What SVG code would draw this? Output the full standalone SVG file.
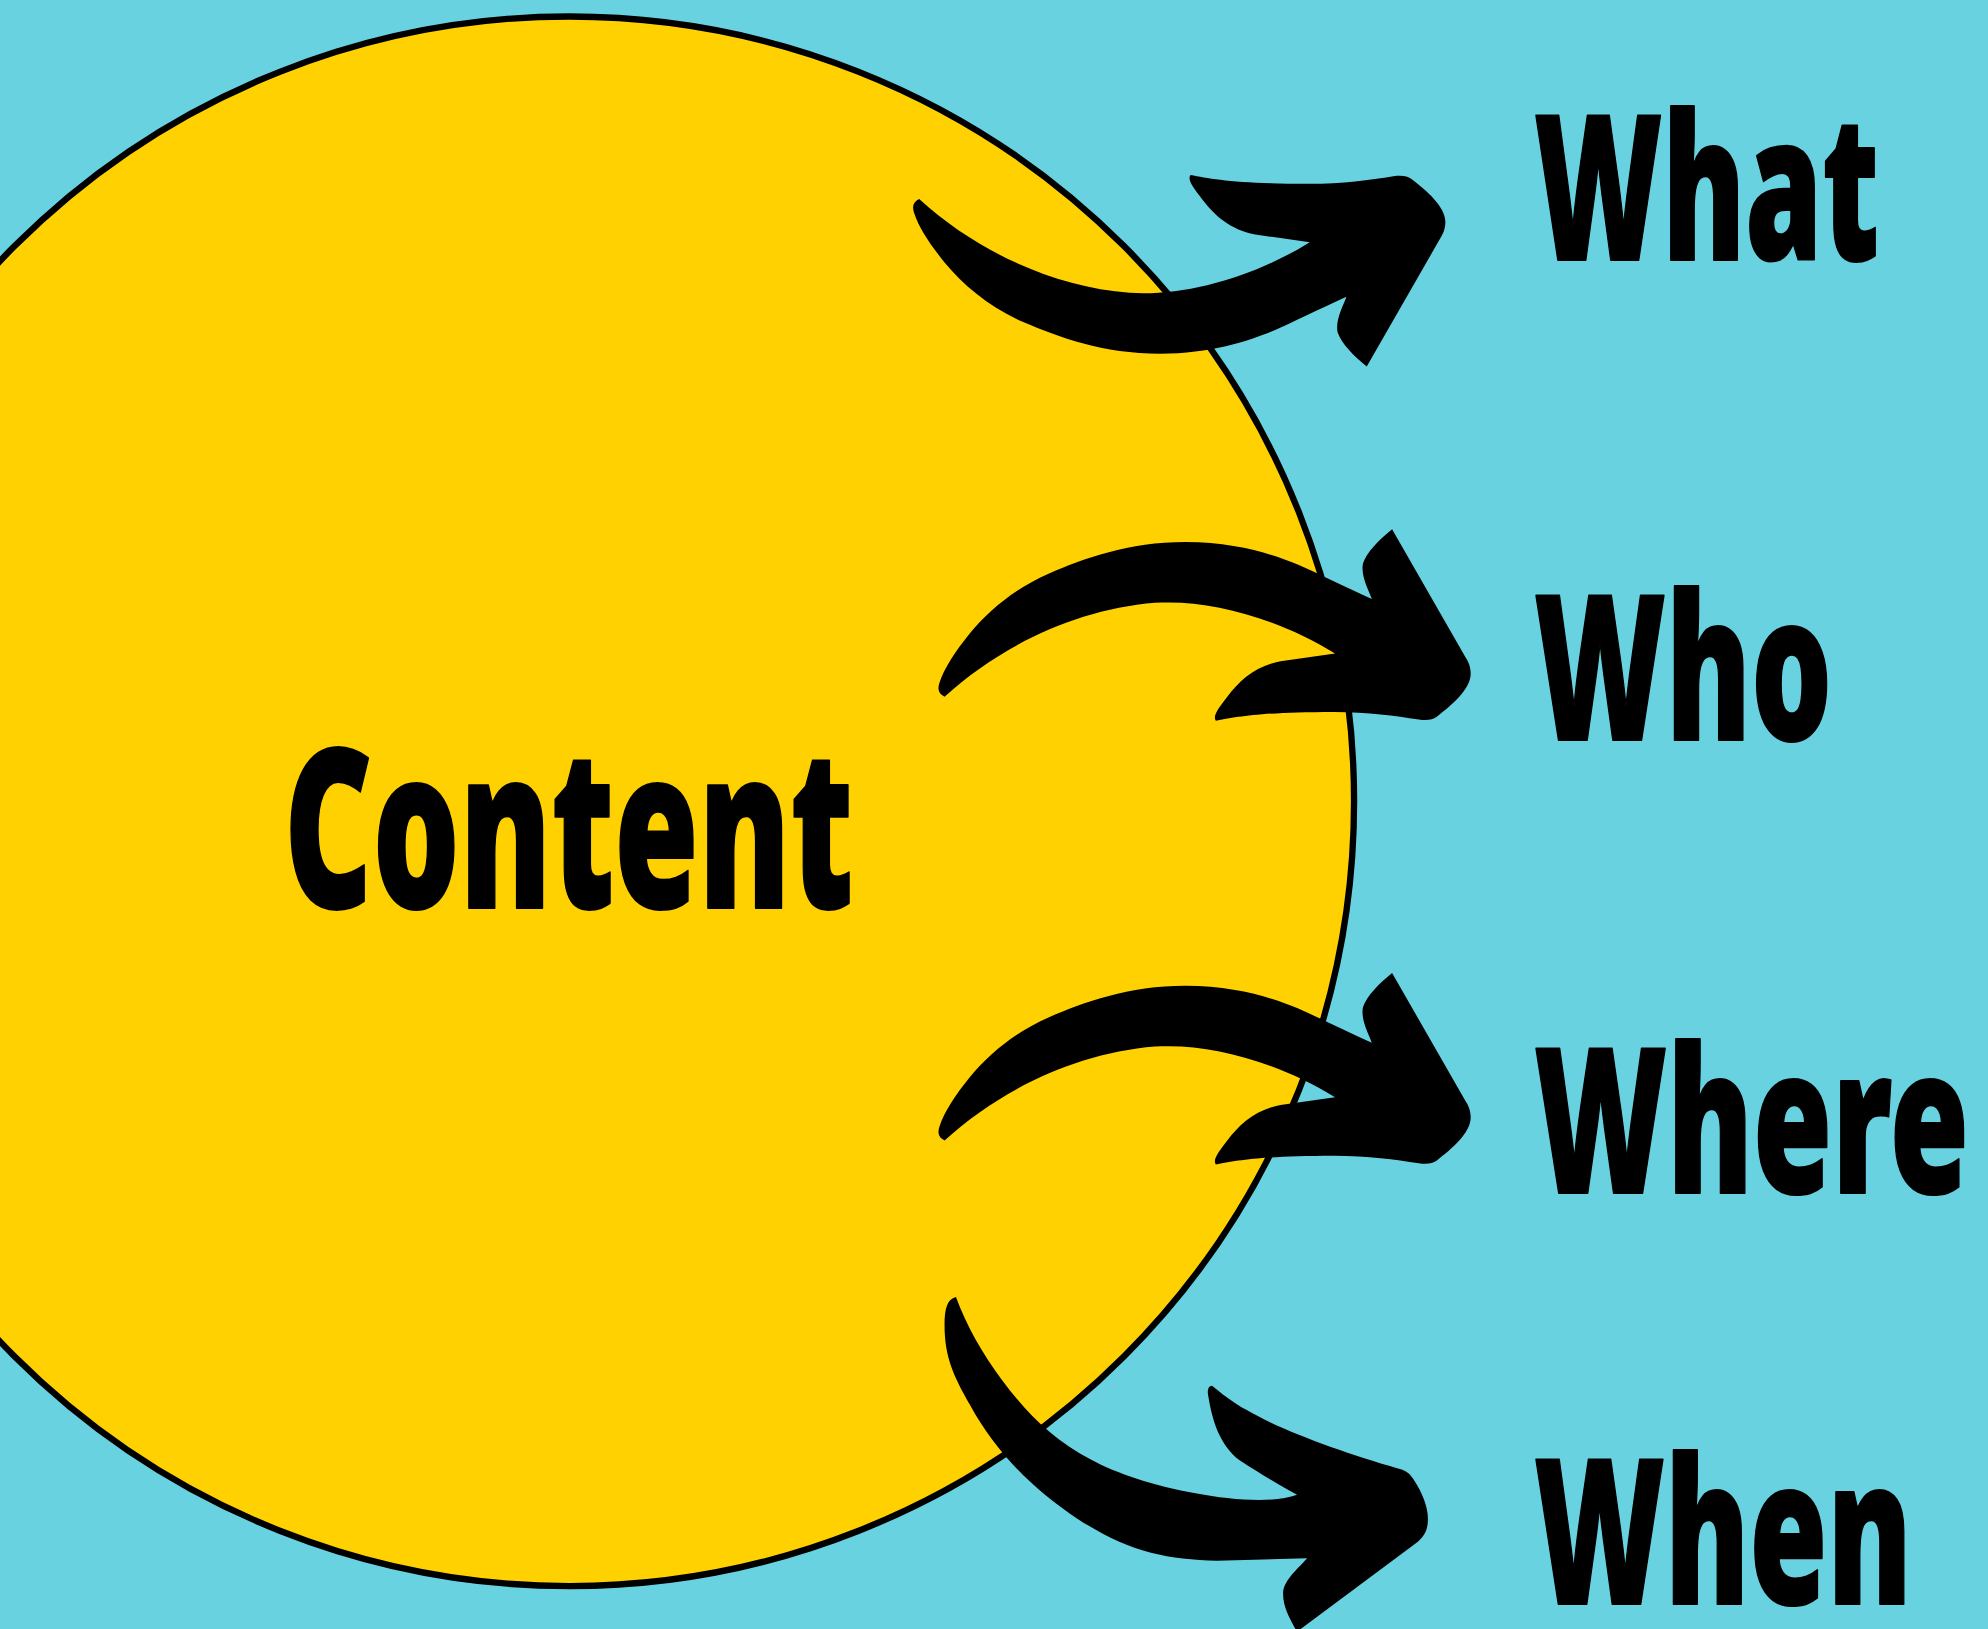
<svg xmlns="http://www.w3.org/2000/svg" width="1988" height="1629" viewBox="0 0 1988 1629">
<defs>
<style>
.lbl{font-family:"Noto Sans","DejaVu Sans","Liberation Sans",sans-serif;font-weight:900;font-stretch:extra-condensed;fill:#000;stroke:#000;stroke-width:1.5;stroke-linejoin:round}
.arr{fill:#000}
</style>
<path id="arrowA" d="M725,157 C770,198 830,226 891,231 C935,234 990,218 1033,191 L990,185 C970,181 958,170 948,157 C942,149 936,142 939,138 C955,141 975,145 1032,145 C1060,145 1080,142 1099,139 C1106,138 1110,139 1113,141 C1125,150 1140,163 1140,175 C1140,181 1138,185 1136,188 L1078,289 C1068,281 1058,271 1055,262 C1053,252 1060,240 1062,234 C1040,244 1020,254 1004,261 C985,269 955,279 915,279 C870,279 835,266 807,254 C780,242 760,225 745,207 C733,192 725,180 721,168 C719,162 721,159 725,157 Z"/>
</defs>
<rect width="1988" height="1629" fill="#69D2E0"/>
<g transform="scale(1.267857)">
<g id="content-node">
<circle cx="449" cy="632" r="619" fill="#FFD100" stroke="#000" stroke-width="5"/>
<text class="lbl" x="224" y="716" font-size="175" textLength="449" lengthAdjust="spacingAndGlyphs">Content</text>
</g>
<g id="connectors" class="arr">
<use href="#arrowA"/>
<use href="#arrowA" transform="translate(20,706.5) scale(1,-1)"/>
<use href="#arrowA" transform="translate(20,1056.5) scale(1,-1)"/>
<path d="M754,1023 C747,1025 745,1032 745,1045 C745,1070 752,1085 765,1108 C785,1145 815,1175 850,1198 C890,1224 920,1230 960,1231 L1031,1229 C1022,1239 1012,1247 1012,1257 C1012,1268 1018,1278 1023,1287 L1117,1217 C1125,1211 1127,1204 1126,1194 C1125,1185 1120,1173 1112,1163 C1109,1160 1106,1159 1102,1158 C1060,1146 1010,1128 983,1112 C972,1106 962,1098 956,1093 C953,1093 952,1097 953,1101 C956,1120 962,1140 978,1152 C995,1163 1010,1172 1023,1179 C1005,1186 970,1183 944,1178 C910,1172 880,1162 860,1151 C830,1135 810,1115 790,1088 C775,1068 762,1045 754,1023 Z"/>
</g>
<g id="what"><text class="lbl" x="1210" y="205" font-size="160" textLength="272" lengthAdjust="spacingAndGlyphs">What</text></g>
<g id="who"><text class="lbl" x="1210" y="584" font-size="160" textLength="235" lengthAdjust="spacingAndGlyphs">Who</text></g>
<g id="where"><text class="lbl" x="1210" y="941" font-size="160" textLength="343" lengthAdjust="spacingAndGlyphs">Where</text></g>
<g id="when"><text class="lbl" x="1210" y="1265" font-size="160" textLength="298" lengthAdjust="spacingAndGlyphs">When</text></g>
</g>
</svg>
